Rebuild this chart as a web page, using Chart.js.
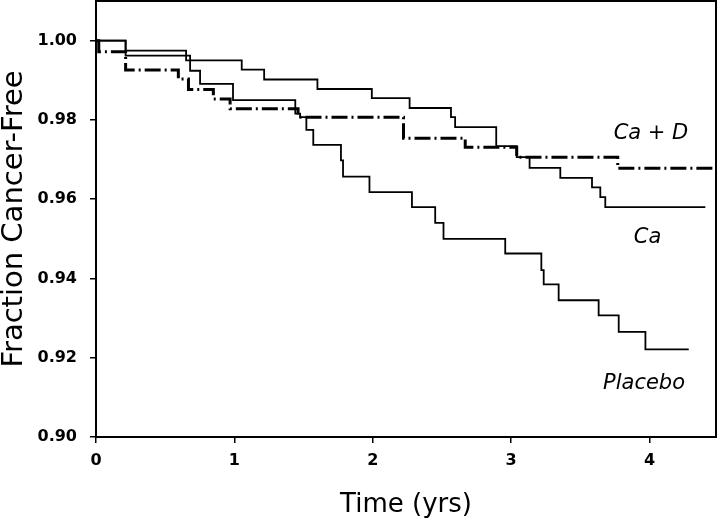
<!DOCTYPE html>
<html>
<head>
<meta charset="utf-8">
<script src="https://cdn.jsdelivr.net/npm/chart.js@4"></script>
<style>
  html, body { margin: 0; padding: 0; background: #fff; }
  #wrap { width: 720px; height: 523px; }
</style>
</head>
<body>
<div id="wrap"><canvas id="chart"></canvas></div>
<script>
// Kaplan-Meier style curves, time in years, value = fraction cancer-free
const caDTimes  = [0, 0.02, 0.214, 0.595, 0.668, 0.848, 0.969, 1.46, 2.222, 2.668, 3.04, 3.77, 4.48];
const caDValues = [1.0, 0.9972, 0.9926, 0.9903, 0.9877, 0.9853, 0.9828, 0.9807, 0.9754, 0.9731, 0.9706, 0.9678, 0.9678];

const caTimes  = [0, 0.214, 0.651, 1.053, 1.215, 1.6, 1.993, 2.266, 2.565, 2.595, 2.892, 3.04, 3.133, 3.355, 3.584, 3.644, 3.68, 4.403];
const caValues = [1.0, 0.9975, 0.995, 0.9927, 0.9902, 0.9878, 0.9855, 0.983, 0.9807, 0.9782, 0.9734, 0.9706, 0.9679, 0.9654, 0.963, 0.9605, 0.958, 0.958];

const placeboTimes  = [0, 0.214, 0.68, 0.752, 0.99, 1.44, 1.475, 1.52, 1.57, 1.77, 1.785, 1.976, 2.283, 2.451, 2.511, 2.957, 3.218, 3.235, 3.343, 3.632, 3.777, 3.97, 4.283];
const placeboValues = [1.0, 0.9962, 0.9924, 0.9891, 0.985, 0.9816, 0.9807, 0.9775, 0.9737, 0.9698, 0.9657, 0.9618, 0.958, 0.954, 0.95, 0.9463, 0.9421, 0.9385, 0.9345, 0.9307, 0.9265, 0.9221, 0.9221];

const xTicks = [0, 1, 2, 3, 4];
const yTicks = [0.90, 0.92, 0.94, 0.96, 0.98, 1.00];

// curve labels, placed in data units
const labelTexts = ["Ca + D", "Ca", "Placebo"];
const labelX = [4.01, 3.985, 3.96];
const labelY = [0.9766, 0.9503, 0.9136];

const toPoints = (ts, vs) => ts.map((t, i) => ({ x: t, y: vs[i] }));

const curveLabels = {
  id: "curveLabels",
  afterDatasetsDraw(chart) {
    const ctx = chart.ctx;
    const xs = chart.scales.x, ys = chart.scales.y;
    ctx.save();
    ctx.fillStyle = "#000";
    ctx.font = "italic 21px 'DejaVu Sans'";
    ctx.textAlign = "center";
    ctx.textBaseline = "middle";
    labelTexts.forEach((txt, i) => {
      ctx.fillText(txt, xs.getPixelForValue(labelX[i]), ys.getPixelForValue(labelY[i]));
    });
    ctx.restore();
  }
};

const tickFont = { family: "DejaVu Sans", size: 16, weight: "bold" };

new Chart(document.getElementById("chart"), {
  type: "line",
  data: {
    datasets: [
      {
        label: "Ca + D",
        data: toPoints(caDTimes, caDValues),
        stepped: "before",
        borderColor: "#000",
        borderWidth: 3,
        borderDash: [16, 4, 2, 4],
        pointRadius: 0,
        fill: false,
      },
      {
        label: "Ca",
        data: toPoints(caTimes, caValues),
        stepped: "before",
        borderColor: "#000",
        borderWidth: 1.8,
        pointRadius: 0,
        fill: false,
      },
      {
        label: "Placebo",
        data: toPoints(placeboTimes, placeboValues),
        stepped: "before",
        borderColor: "#000",
        borderWidth: 1.8,
        pointRadius: 0,
        fill: false,
      },
    ],
  },
  options: {
    responsive: true,
    maintainAspectRatio: false,
    animation: false,
    layout: { padding: 0 },
    plugins: {
      legend: { display: false },
      tooltip: { enabled: false },
    },
    scales: {
      x: {
        type: "linear",
        position: "bottom",
        min: 0,
        max: 4.48,
        afterBuildTicks: (a) => { a.ticks = xTicks.map(v => ({ value: v })); },
        afterFit: (a) => { a.height = 86; a.paddingLeft = 0; a.paddingRight = 0; },
        ticks: { color: "#000", font: tickFont, padding: 8, maxRotation: 0 },
        grid: { drawOnChartArea: false, drawTicks: true, tickLength: 6, color: "#000", lineWidth: 1.5 },
        border: { display: true, color: "#000", width: 2 },
        title: { display: true, text: "Time (yrs)", color: "#000", font: { family: "DejaVu Sans", size: 26 }, padding: { top: 0, bottom: 2 } },
      },
      y: {
        type: "linear",
        position: "left",
        min: 0.90,
        max: 1.01,
        afterBuildTicks: (a) => { a.ticks = yTicks.map(v => ({ value: v })); },
        afterFit: (a) => { a.width = 96; a.paddingTop = 0; a.paddingBottom = 0; },
        ticks: { color: "#000", font: tickFont, padding: 13, callback: (v) => v.toFixed(2) },
        grid: { drawOnChartArea: false, drawTicks: true, tickLength: 6, color: "#000", lineWidth: 1.5 },
        border: { display: true, color: "#000", width: 2 },
        title: { display: true, text: "Fraction Cancer-Free", color: "#000", font: { family: "DejaVu Sans", size: 29 }, padding: { top: -3, bottom: 0 } },
      },
      x2: {
        type: "linear",
        position: "top",
        min: 0,
        max: 4.48,
        afterFit: (a) => { a.height = 1; },
        ticks: { display: false },
        grid: { display: false },
        border: { display: true, color: "#000", width: 2 },
      },
      y2: {
        type: "linear",
        position: "right",
        min: 0.90,
        max: 1.01,
        afterFit: (a) => { a.width = 4; a.paddingTop = 0; a.paddingBottom = 0; },
        ticks: { display: false },
        grid: { display: false },
        border: { display: true, color: "#000", width: 2 },
      },
    },
  },
  plugins: [curveLabels],
});
</script>
</body>
</html>
